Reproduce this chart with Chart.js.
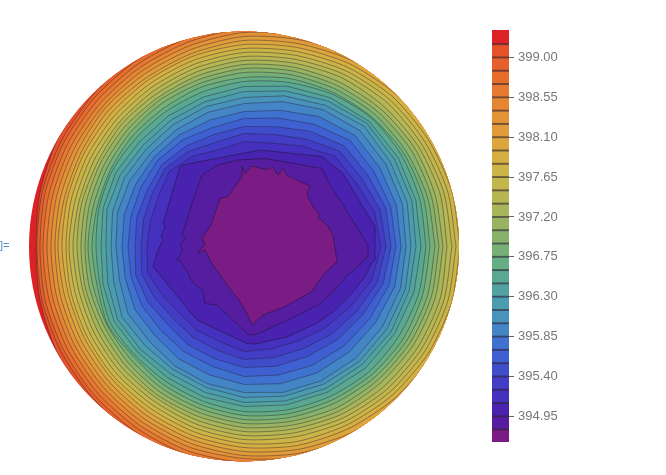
<!DOCTYPE html>
<html>
<head>
<meta charset="utf-8">
<style>
    html, body { margin: 0; padding: 0; background: #fff; }
    body { position: relative; width: 666px; height: 475px; overflow: hidden; }
    canvas { position: absolute; display: block; }
    #disk { left: 0; top: 0; filter: blur(0.55px); }
    #bar { left: 492px; top: 30px; filter: blur(0.3px); }
    #cut { position: absolute; left: 0; top: 239px; font: 11px "Liberation Sans", sans-serif; color: #4f8fc4; }
</style>
<script src="https://cdn.jsdelivr.net/npm/chart.js@4"></script>
</head>
<body>
<canvas id="disk" width="666" height="475" style="width:666px;height:475px"></canvas>
<canvas id="bar" width="174" height="412" style="width:174px;height:412px"></canvas>
<div id="cut">]=</div>
<script>
const levels = [394.8, 394.95, 395.1, 395.25, 395.4, 395.55, 395.7, 395.85, 396, 396.15,
    396.3, 396.45, 396.6, 396.75, 396.9, 397.05, 397.2, 397.35, 397.5, 397.65,
    397.8, 397.95, 398.1, 398.25, 398.4, 398.55, 398.7, 398.85, 399, 399.15];
const barMin = 394.66;
const barMax = 399.31;
const tickLabels = [394.95, 395.4, 395.85, 396.3, 396.75, 397.2, 397.65, 398.1, 398.55, 399];
const diskRadius = 215;

// colours of the bands, from the lowest up
const bandColors = ["#7a1c84", "#561da0", "#4a22b0", "#4630be", "#433cc4", "#3f4dcb", "#3f60d0", "#3f72cf",
    "#4485c6", "#4892bc", "#4c9caf", "#52a3a0", "#5aa891", "#66ad83", "#76b077", "#87b26c",
    "#98b462", "#a8b559", "#b6b652", "#c2b64c", "#ccb547", "#d5af42", "#dca63d", "#e09c3a",
    "#e49236", "#e68633", "#e77a30", "#e76d2d", "#e6602b", "#e55129", "#dc2225"];

// the three jagged contours in the middle, as x,y
const ring0 = [[-2,80],[1,73],[8,80.5],[21,77],[29,79],[34,71.5],[39,78],[43,71],[56,65],[66,60.5],[63,51.5],
    [69,40],[76,31.5],[74,29],[83,21.5],[89,11.5],[93,-15],[79,-28.5],[68,-45],[41,-60],[19,-68.5],[8,-78.5],[3,-67],
    [-6,-52],[-16,-40],[-25,-27],[-32,-17],[-39,-3.5],[-46,-7],[-39,3],[-42,8],[-33,21.5],[-24,48],[-16,50],[-2,70]];
const ring1 = [[124,1.5],[124,-10.5],[102,-30.5],[89,-45.5],[74,-58.5],[44,-73.5],[11,-88.5],[4,-88],[-27,-58.5],[-39,-57],
    [-41,-45],[-52,-35],[-56,-27],[-64,-13.5],[-67,-13.5],[-61,-3.5],[-64,1.5],[-59,8],[-62,11.5],[-59,20],[-51,46.5],
    [-42,71.5],[-26,81.5],[-6,86.5],[21,88],[78,78],[86,61.5],[99,41.5]];
const ring2 = [[131,20],[131,-13.5],[128,-15.5],[122,-28.5],[109,-45.5],[89,-65.5],[73,-76.5],[43,-90.5],[11,-97.5],[3,-97],
    [-47,-73.5],[-91,-20],[-88,-10],[-86,-3.5],[-81,6.5],[-83,10],[-79,20],[-81,23],[-64,80],[-62,81.5],[16,96.5],[78,90],[99,73]];

// the other contours: distance from the disk centre along each spoke
const spokeAngles = [0, 15, 30, 45, 60, 75, 90, 105, 120, 135, 150, 165, 180, 195, 210, 225, 240, 255, 270, 285, 300, 315, 330, 345];
const ringRadii = [
    [137,135,129,128,116,107,105,100,104,106,99,97,97,100,95,93,96,98,105,106,109,115,122,132],
    [142,141,136,135,124,116,113,108,110,111,106,104,103,106,103,101,104,107,113,115,118,124,130,138],
    [147,147,143,142,133,124,120,116,116,116,112,111,109,112,111,109,113,116,121,124,127,132,137,144],
    [152,152,150,150,141,133,128,123,123,122,119,117,116,117,118,118,121,124,130,133,137,141,145,150],
    [157,158,157,157,150,141,135,131,129,127,125,124,122,123,126,126,130,133,138,142,146,149,152,156],
    [162,164,164,164,158,150,143,139,135,132,132,131,128,129,134,134,138,142,146,151,155,158,160,162],
    [167,169,169,170,163,156,149,145,141,138,138,136,133,135,141,140,142,146,151,155,159,163,165,167],
    [172,174,174,174,168,161,155,150,146,143,143,142,138,141,146,146,147,151,156,160,164,167,170,171],
    [177,178,178,177,172,166,160,155,151,148,148,146,143,146,150,150,152,156,160,164,168,172,174,176],
    [182,182,182,181,176,170,165,160,156,153,152,150,148,149,154,154,156,160,165,169,173,177,179,181],
    [186,186,185,182,178,174,169,165,160,157,154,152,152,152,157,156,160,164,169,173,177,181,184,185],
    [191,190,188,186,182,178,174,169,165,161,158,156,156,156,158,160,164,168,173,177,181,185,188,190],
    [195,194,193,190,186,182,178,173,169,165,162,160,159,160,161,164,168,172,177,181,186,189,192,194],
    [199,198,197,194,190,186,182,177,172,169,166,164,163,164,165,168,172,176,181,185,190,193,196,198],
    [203,203,201,198,195,190,186,181,176,173,169,168,167,167,169,172,175,180,185,189,194,198,201,203],
    [208,207,205,203,199,194,190,185,180,176,173,171,171,171,173,176,179,184,189,193,198,202,205,207],
    [212,211,209,207,203,198,194,189,184,180,177,175,175,175,177,180,183,188,193,197,202,206,209,211],
    [216,215,213,211,207,202,198,193,188,184,181,179,178,179,181,184,187,192,197,202,206,210,213,215],
    [220,220,218,215,211,206,202,197,192,188,185,183,182,182,184,187,191,196,201,206,210,214,217,219],
    [225,224,222,219,215,210,206,200,195,192,188,186,186,186,188,191,195,200,205,210,215,219,222,224],
    [229,228,226,223,219,214,210,204,199,196,192,190,189,190,192,195,199,204,209,214,219,223,226,228],
    [233,232,230,227,223,218,214,208,203,199,196,194,193,194,196,199,203,208,212,218,223,227,230,232],
    [237,236,235,231,227,223,218,212,207,203,200,198,197,198,200,203,207,212,216,222,227,231,234,236],
    [242,241,239,236,231,227,222,216,211,207,204,202,201,202,204,207,211,216,220,226,231,236,238,240],
    [246,245,243,240,235,231,226,220,215,211,208,206,204,206,208,211,215,220,224,230,235,240,243,245],
    [250,250,247,244,240,235,230,224,219,214,211,209,207,209,211,214,219,224,228,235,240,244,247,249],
    [254,253,251,248,243,238,233,226,221,217,215,211,208,211,215,217,221,226,231,238,243,248,251,253]
];

function closeRing(points) {
    const ring = points.map(p => ({ x: p[0], y: p[1] }));
    ring.push(ring[0]);
    return ring;
}

function spokeRing(radii) {
    const points = radii.map((r, i) => {
        const a = spokeAngles[i] * Math.PI / 180;
        return [r * Math.cos(a), r * Math.sin(a)];
    });
    return closeRing(points);
}

const rings = [closeRing(ring0), closeRing(ring1), closeRing(ring2)].concat(ringRadii.map(spokeRing));

// first dataset is drawn last, so the lowest contour ends up on top
// tension is never exactly 0: the straight fast path merges points with the same x into spikes
const contourSets = rings.map((ring, k) => ({
    label: String(levels[k]),
    data: ring,
    showLine: true,
    fill: "shape",
    tension: k > 11 ? 0.25 : 0.001,
    backgroundColor: bandColors[k],
    borderColor: k < 3 ? "rgba(35,25,60,0.6)" : "rgba(35,30,50,0.42)",
    borderWidth: 1,
    pointRadius: 0
}));

/* Круг: заливка верхней полосой и обрезка контуров */
const diskClip = {
    id: "diskClip",
    beforeDatasetsDraw(chart) {
        const { ctx, scales } = chart;
        const cx = scales.x.getPixelForValue(0);
        const cy = scales.y.getPixelForValue(0);
        const r = scales.x.getPixelForValue(diskRadius) - cx;
        ctx.save();
        ctx.beginPath();
        ctx.arc(cx, cy, r, 0, Math.PI * 2);
        ctx.fillStyle = bandColors[30];
        ctx.fill();
        ctx.clip();
    },
    afterDatasetsDraw(chart) {
        chart.ctx.restore();
    }
};

new Chart(document.getElementById("disk"), {
    type: "scatter",
    plugins: [diskClip],
    data: { datasets: contourSets },
    options: {
        responsive: false,
        animation: false,
        layout: { padding: 0 },
        plugins: { legend: { display: false }, tooltip: { enabled: false } },
        scales: {
            x: { type: "linear", display: false, min: -244, max: 422 },
            y: { type: "linear", display: false, min: -228.5, max: 246.5 }
        }
    }
});

// colour bar: one floating bar per band, thin dark bars on top for the contour levels
const bandEdges = [barMin].concat(levels, [barMax]);
const markSets = levels.map(v => ({
    data: [[v - 0.007, v + 0.007]],
    backgroundColor: "rgba(45,35,50,0.62)",
    barPercentage: 1,
    categoryPercentage: 1,
    grouped: false
}));
const barSets = bandColors.map((color, i) => ({
    data: [[bandEdges[i], bandEdges[i + 1]]],
    backgroundColor: color,
    barPercentage: 1,
    categoryPercentage: 1,
    grouped: false
}));

new Chart(document.getElementById("bar"), {
    type: "bar",
    data: { labels: [""], datasets: markSets.concat(barSets) },
    options: {
        responsive: false,
        animation: false,
        layout: { padding: 0 },
        plugins: { legend: { display: false }, tooltip: { enabled: false } },
        scales: {
            x: { display: false },
            y: {
                position: "right",
                min: barMin,
                max: barMax,
                afterBuildTicks: scale => { scale.ticks = tickLabels.map(v => ({ value: v })); },
                afterFit: scale => { scale.width = 157; scale.paddingTop = 0; scale.paddingBottom = 0; },
                border: { display: false },
                grid: { drawOnChartArea: false, drawTicks: true, tickLength: 5, color: "#666" },
                ticks: {
                    padding: 4,
                    color: "#74787e",
                    font: { family: "Liberation Sans", size: 13 },
                    callback: v => v.toFixed(2)
                }
            }
        }
    }
});
</script>
</body>
</html>
